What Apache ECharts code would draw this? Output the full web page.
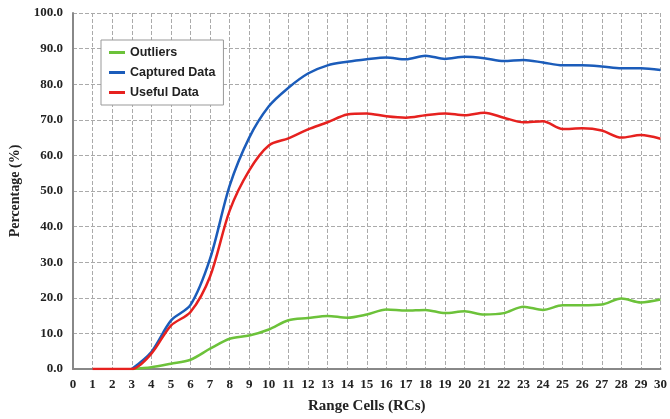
<!DOCTYPE html>
<html><head><meta charset="utf-8">
<script src="https://cdn.jsdelivr.net/npm/echarts@6/dist/echarts.min.js"></script>
<style>html,body{margin:0;padding:0;background:#fff}#c{width:670px;height:419px}</style>
</head><body><div id="c"></div>
<script>
const xs = [1,2,3,4,5,6,7,8,9,10,11,12,13,14,15,16,17,18,19,20,21,22,23,24,25,26,27,28,29,30];
const outliers = [null,null,0,0.5,1.5,2.6,5.7,8.5,9.4,11.1,13.7,14.3,14.9,14.4,15.3,16.7,16.4,16.6,15.7,16.2,15.3,15.7,17.5,16.6,17.9,17.9,18.1,19.8,18.7,19.5];
const captured = [null,null,0,4.8,13.6,18,31,51.5,65,73.8,79,83,85.3,86.3,87,87.5,87,88,87.1,87.7,87.3,86.5,86.8,86.1,85.3,85.3,85,84.5,84.5,84];
const useful = [0,0,0,4.3,12.2,16,26,44.5,55.8,62.8,64.8,67.3,69.3,71.5,71.8,71,70.6,71.3,71.8,71.3,72,70.6,69.3,69.6,67.4,67.6,67,65,65.7,64.7];
const names = ['Outliers','Captured Data','Useful Data'];
const colors = ['#6cc23a','#1b5cba','#e6211f'];
const pairs = arr => xs.map((x,i)=>[x,arr[i]]);
const serif = '"Liberation Serif","Times New Roman",serif';
const chart = echarts.init(document.getElementById('c'));
chart.setOption({
  animation:false,
  grid:{left:73,right:7,top:13,bottom:47},
  legend:{
    orient:'vertical', left:101, top:40, padding:[6,8,6,8],
    backgroundColor:'#fff', borderColor:'#999', borderWidth:1,
    itemWidth:16, itemHeight:3, itemGap:7, icon:'rect',
    textStyle:{fontFamily:'"Liberation Sans",Arial,sans-serif',fontWeight:'bold',fontSize:12.5,color:'#222'},
    data:names
  },
  xAxis:{
    type:'value', min:0, max:30, interval:1,
    name:'Range Cells (RCs)', nameLocation:'middle', nameGap:30,
    nameTextStyle:{fontFamily:serif,fontWeight:'bold',fontSize:15,color:'#222'},
    axisLine:{lineStyle:{color:'#888',width:2}},
    axisTick:{show:false},
    axisLabel:{fontFamily:serif,fontWeight:'bold',fontSize:13,color:'#222',margin:9},
    splitLine:{show:true,lineStyle:{color:'#aaa',type:'dashed',width:1}}
  },
  yAxis:{
    type:'value', min:0, max:100, interval:10,
    name:'Percentage (%)', nameLocation:'middle', nameGap:46,
    nameTextStyle:{fontFamily:serif,fontWeight:'bold',fontSize:14,color:'#222'},
    axisLine:{show:true,lineStyle:{color:'#888',width:2}},
    axisTick:{show:false},
    axisLabel:{fontFamily:serif,fontWeight:'bold',fontSize:13,color:'#222',margin:10,formatter:v=>v.toFixed(1)},
    splitLine:{show:true,lineStyle:{color:'#aaa',type:'dashed',width:1}}
  },
  series:[
    {name:names[0],type:'line',data:pairs(outliers),smooth:0.3,showSymbol:false,lineStyle:{width:2.5,color:colors[0]},itemStyle:{color:colors[0]}},
    {name:names[1],type:'line',data:pairs(captured),smooth:0.3,showSymbol:false,lineStyle:{width:2.5,color:colors[1]},itemStyle:{color:colors[1]}},
    {name:names[2],type:'line',data:pairs(useful),smooth:0.3,showSymbol:false,lineStyle:{width:2.5,color:colors[2]},itemStyle:{color:colors[2]}}
  ]
});
</script></body></html>
